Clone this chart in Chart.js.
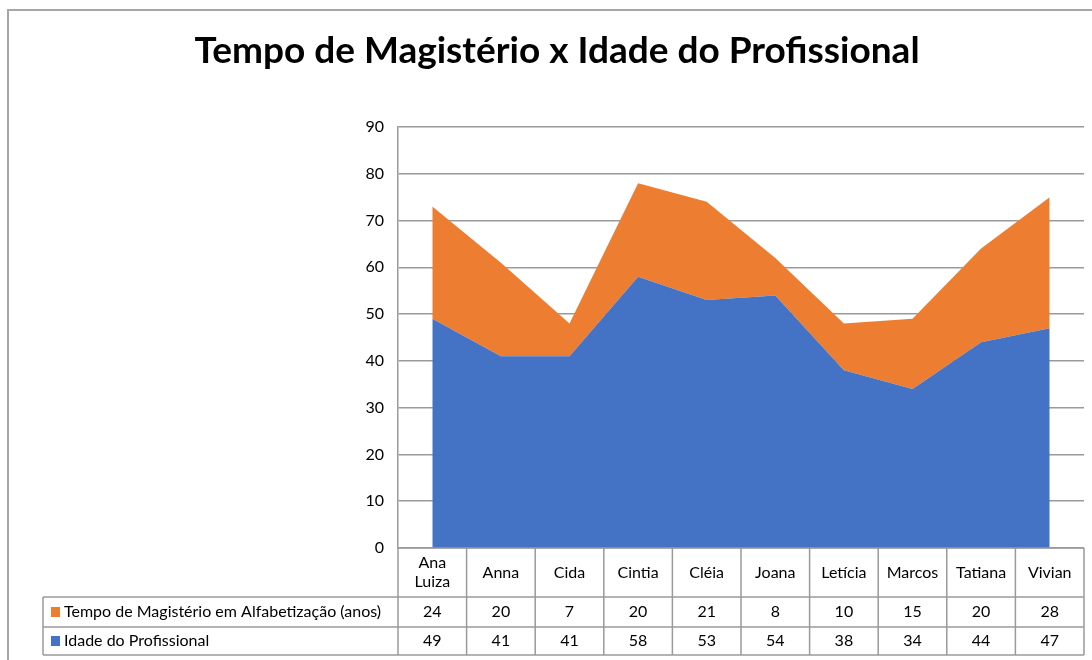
<!DOCTYPE html>
<html>
<head>
<meta charset="utf-8">
<script src="https://cdn.jsdelivr.net/npm/chart.js@4"></script>
<style>
    html, body { margin: 0; padding: 0; background: #fff; }
    #wrap { width: 1092px; height: 660px; }
</style>
</head>
<body>
<div id="wrap"><canvas id="chart" width="1092" height="660"></canvas></div>
<script>
// Data
const categories = ['Ana Luiza', 'Anna', 'Cida', 'Cintia', 'Cléia', 'Joana', 'Letícia', 'Marcos', 'Tatiana', 'Vivian'];
const tempoMagisterio = [24, 20, 7, 20, 21, 8, 10, 15, 20, 28];
const idadeProfissional = [49, 41, 41, 58, 53, 54, 38, 34, 44, 47];
const yMin = 0;
const yMax = 90;
const yStep = 10;

const titleText = 'Tempo de Magistério x Idade do Profissional';
const seriesNames = ['Tempo de Magistério em Alfabetização (anos)', 'Idade do Profissional'];

const blue = '#4472C4';
const orange = '#ED7D31';
const lineGray = '#9a9a9a';
const font = 'Lato, "Liberation Sans", sans-serif';

/**
 * Draws the outer frame and the title
 */
const frameAndTitle = {
    id: 'frameAndTitle',
    beforeDraw(chart) {
        const ctx = chart.ctx;
        ctx.save();
        ctx.fillStyle = '#fff';
        ctx.fillRect(0, 0, chart.width, chart.height);
        ctx.strokeStyle = '#a6a6a6';
        ctx.lineWidth = 2;
        ctx.beginPath();
        ctx.moveTo(8, chart.height);
        ctx.lineTo(8, 10);
        ctx.lineTo(chart.width, 10);
        ctx.stroke();

        ctx.fillStyle = '#000';
        ctx.font = 'bold 37px ' + font;
        ctx.textAlign = 'center';
        ctx.textBaseline = 'alphabetic';
        ctx.fillText(titleText, 557, 63);
        ctx.restore();
    }
};

/**
 * Draws the data table under the plot area, aligned with the x scale
 */
const dataTable = {
    id: 'dataTable',
    afterDraw(chart) {
        const ctx = chart.ctx;
        const area = chart.chartArea;
        const x = chart.scales.x;
        const n = categories.length;
        const step = (area.right - area.left) / n;
        const top = area.bottom;
        const row1 = top + 49;
        const row2 = row1 + 30;
        const bottom = row2 + 28;
        const legendLeft = 43;

        ctx.save();
        ctx.strokeStyle = lineGray;
        ctx.lineWidth = 1.5;
        ctx.beginPath();
        // horizontal lines
        ctx.moveTo(area.left, top); ctx.lineTo(area.right, top);
        ctx.moveTo(legendLeft, row1); ctx.lineTo(area.right, row1);
        ctx.moveTo(legendLeft, row2); ctx.lineTo(area.right, row2);
        ctx.moveTo(legendLeft, bottom); ctx.lineTo(area.right, bottom);
        // vertical lines
        for (let i = 0; i <= n; i++) {
            const lx = area.left + i * step;
            ctx.moveTo(lx, top); ctx.lineTo(lx, bottom);
        }
        ctx.moveTo(legendLeft, row1); ctx.lineTo(legendLeft, bottom);
        ctx.stroke();

        ctx.fillStyle = '#000';
        ctx.font = '16px ' + font;
        ctx.textAlign = 'center';
        ctx.textBaseline = 'middle';

        // header row with category names
        categories.forEach((cat, i) => {
            const cx = x.getPixelForValue(i);
            const words = cat.split(' ');
            if (words.length > 1) {
                ctx.fillText(words[0], cx, top + 15);
                ctx.fillText(words.slice(1).join(' '), cx, top + 34);
            } else {
                ctx.fillText(cat, cx, top + 25);
            }
            ctx.fillText(String(tempoMagisterio[i]), cx, (row1 + row2) / 2);
            ctx.fillText(String(idadeProfissional[i]), cx, (row2 + bottom) / 2);
        });

        // legend keys
        const keys = [[orange, seriesNames[0], (row1 + row2) / 2], [blue, seriesNames[1], (row2 + bottom) / 2]];
        ctx.textAlign = 'left';
        keys.forEach(([color, label, cy]) => {
            ctx.fillStyle = color;
            ctx.fillRect(51, cy - 5, 9, 10);
            ctx.fillStyle = '#000';
            ctx.fillText(label, 64, cy);
        });
        ctx.restore();
    }
};

const ctx = document.getElementById('chart').getContext('2d');
new Chart(ctx, {
    type: 'line',
    data: {
        labels: categories,
        datasets: [{
            label: seriesNames[1],
            data: idadeProfissional,
            backgroundColor: blue,
            borderWidth: 0,
            pointRadius: 0,
            fill: 'origin'
        }, {
            label: seriesNames[0],
            data: tempoMagisterio,
            backgroundColor: orange,
            borderWidth: 0,
            pointRadius: 0,
            fill: '-1'
        }]
    },
    options: {
        responsive: false,
        animation: false,
        layout: {
            padding: { left: 0, right: 8, top: 127, bottom: 112 }
        },
        plugins: {
            legend: { display: false },
            title: { display: false },
            tooltip: { enabled: false }
        },
        scales: {
            x: {
                display: false,
                offset: true
            },
            y: {
                stacked: true,
                min: yMin,
                max: yMax,
                afterFit(scale) {
                    scale.width = 398; // left edge of the plot area
                },
                ticks: {
                    stepSize: yStep,
                    padding: 14,
                    color: '#000',
                    font: { family: font, size: 16 }
                },
                grid: {
                    color: lineGray,
                    lineWidth: 1.5,
                    drawTicks: false
                },
                border: {
                    display: true,
                    color: lineGray,
                    width: 1.5
                }
            }
        }
    },
    plugins: [frameAndTitle, dataTable]
});
</script>
</body>
</html>
